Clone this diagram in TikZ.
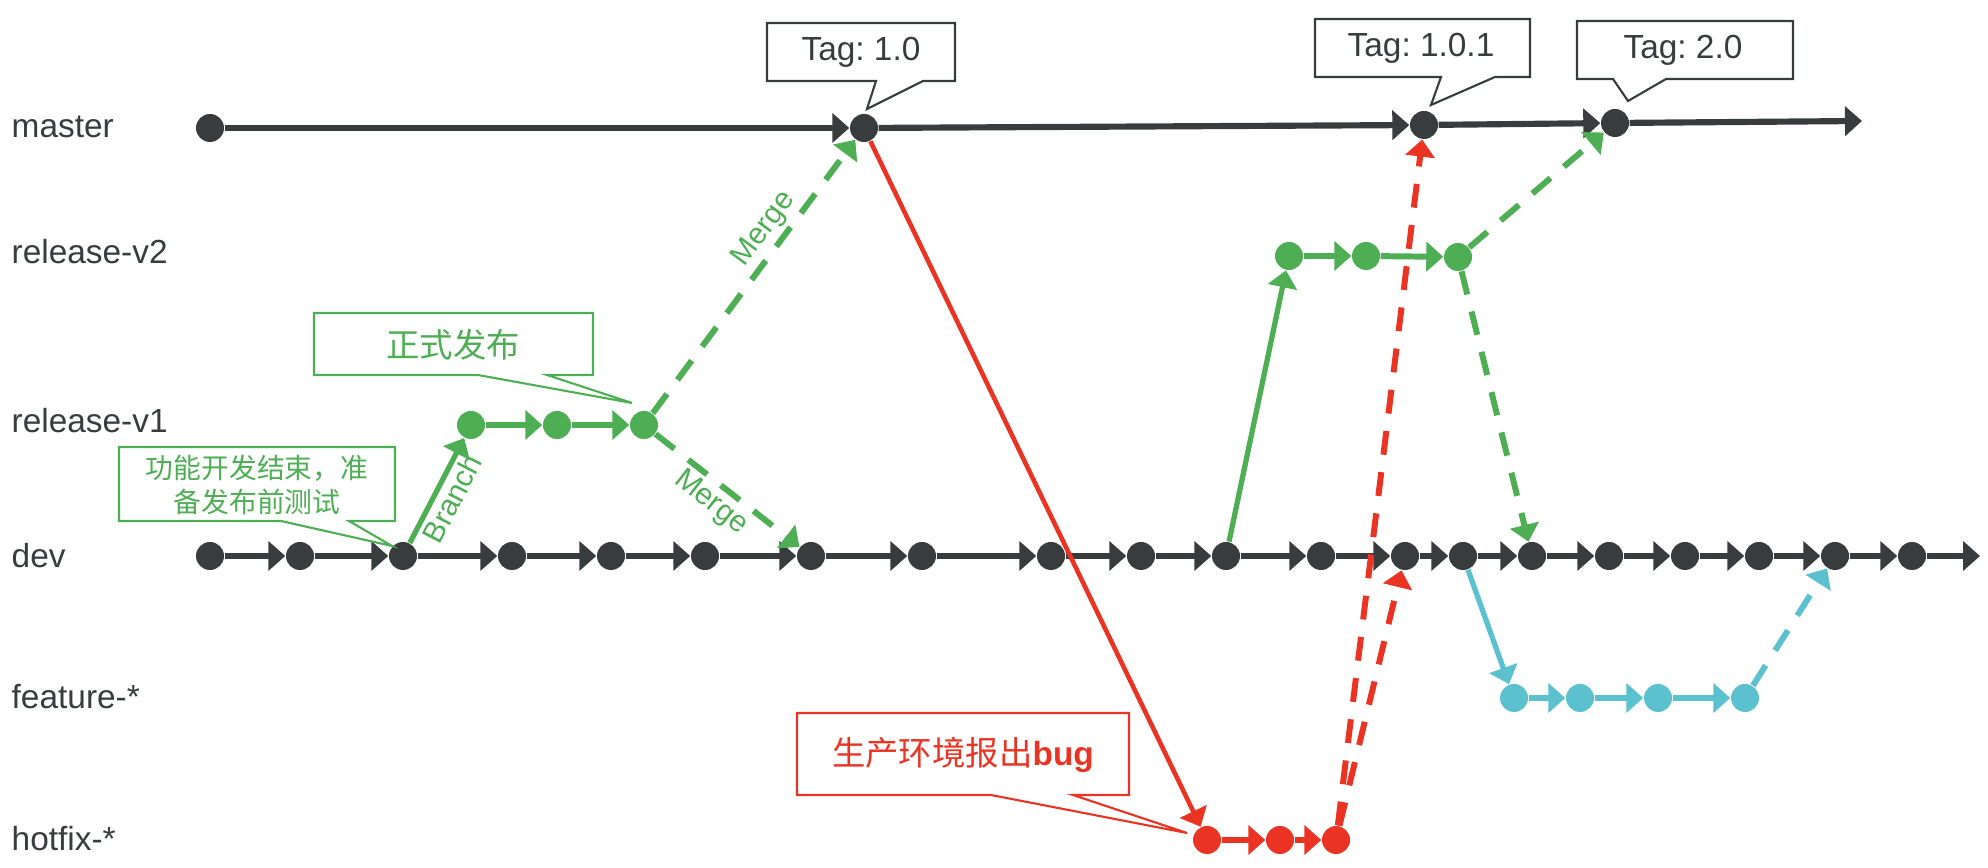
\documentclass[tikz,border=0pt]{standalone}
\usepackage{fontspec}
\setmainfont{Liberation Sans}
\newfontfamily\cjk{Noto Sans CJK SC}
\usetikzlibrary{arrows.meta}
\definecolor{gitgray}{RGB}{56,60,61}
\definecolor{gitgreen}{RGB}{77,174,84}
\definecolor{gitred}{RGB}{235,51,36}
\definecolor{gitcyan}{RGB}{92,193,207}
\frenchspacing
\begin{document}
\begin{tikzpicture}[x=0.01cm, y=-0.01cm,
    every node/.style={font=\fontsize{9.5}{11}\selectfont, text=gitgray},
    commit/.style={circle, fill, inner sep=0pt, minimum size=0.28cm},
    lane/.style={anchor=west, inner sep=0pt},
    link/.style={line width=1.5pt, -{Triangle[width=0.29cm, length=0.17cm]}},
    merge/.style={link, line width=1.7pt, dash pattern=on 6.8pt off 5pt},
    edgelabel/.style={sloped, inner sep=1pt, font=\fontsize{8.5}{10}\selectfont},
    tagbox/.style={line width=0.6pt}]
  \useasboundingbox (0,0) rectangle (1988,868);
  % lanes
  \node[lane] (lmaster) at (11,127) {master};
  \node[lane] (lrelv2) at (11,252) {release-v2};
  \node[lane] (lrelv1) at (11,421) {release-v1};
  \node[lane] (ldev) at (11,556) {dev};
  \node[lane] (lfeat) at (11,697) {feature-*};
  \node[lane] (lhot) at (11,839) {hotfix-*};
  % master
  \node (m1) at (210,128) [commit, fill=gitgray] {};
  \node (m2) at (864,128) [commit, fill=gitgray] {};
  \node (m3) at (1424,125) [commit, fill=gitgray] {};
  \node (m4) at (1615,123) [commit, fill=gitgray] {};
  \coordinate (mend) at (1862,121);
  % release-v2
  \node (rb1) at (1289,256) [commit, fill=gitgreen] {};
  \node (rb2) at (1366,256) [commit, fill=gitgreen] {};
  \node (rb3) at (1458,257) [commit, fill=gitgreen] {};
  % release-v1
  \node (ra1) at (471,425) [commit, fill=gitgreen] {};
  \node (ra2) at (557,425) [commit, fill=gitgreen] {};
  \node (ra3) at (644,425) [commit, fill=gitgreen] {};
  % dev
  \node (d1) at (210,556) [commit, fill=gitgray] {};
  \node (d2) at (300,556) [commit, fill=gitgray] {};
  \node (d3) at (403,556) [commit, fill=gitgray] {};
  \node (d4) at (512,556) [commit, fill=gitgray] {};
  \node (d5) at (611,556) [commit, fill=gitgray] {};
  \node (d6) at (705,556) [commit, fill=gitgray] {};
  \node (d7) at (811,556) [commit, fill=gitgray] {};
  \node (d8) at (922,556) [commit, fill=gitgray] {};
  \node (d9) at (1051,556) [commit, fill=gitgray] {};
  \node (d10) at (1141,556) [commit, fill=gitgray] {};
  \node (d11) at (1226,556) [commit, fill=gitgray] {};
  \node (d12) at (1321,556) [commit, fill=gitgray] {};
  \node (d13) at (1405,556) [commit, fill=gitgray] {};
  \node (d14) at (1463,556) [commit, fill=gitgray] {};
  \node (d15) at (1532,556) [commit, fill=gitgray] {};
  \node (d16) at (1609,556) [commit, fill=gitgray] {};
  \node (d17) at (1685,556) [commit, fill=gitgray] {};
  \node (d18) at (1759,556) [commit, fill=gitgray] {};
  \node (d19) at (1835,556) [commit, fill=gitgray] {};
  \node (d20) at (1912,556) [commit, fill=gitgray] {};
  \coordinate (dend) at (1980,556);
  % feature-*
  \node (f1) at (1514,698) [commit, fill=gitcyan] {};
  \node (f2) at (1580,698) [commit, fill=gitcyan] {};
  \node (f3) at (1658,698) [commit, fill=gitcyan] {};
  \node (f4) at (1745,698) [commit, fill=gitcyan] {};
  % hotfix-*
  \node (h1) at (1207,840) [commit, fill=gitred] {};
  \node (h2) at (1280,840) [commit, fill=gitred] {};
  \node (h3) at (1336,840) [commit, fill=gitred] {};
  % commits along each lane
  \foreach \source/\dest in {m1/m2, m2/m3, m3/m4, m4/mend}
    \path (\source) edge[link, gitgray, line width=1.75pt] (\dest);
  \foreach \source/\dest in {d1/d2, d2/d3, d3/d4, d4/d5, d5/d6, d6/d7, d7/d8, d8/d9, d9/d10, d10/d11, d11/d12, d12/d13, d13/d14, d14/d15, d15/d16, d16/d17, d17/d18, d18/d19, d19/d20, d20/dend}
    \path (\source) edge[link, gitgray, line width=1.7pt] (\dest);
  \foreach \source/\dest in {ra1/ra2, ra2/ra3, rb1/rb2, rb2/rb3}
    \path (\source) edge[link, gitgreen, line width=1.7pt] (\dest);
  \foreach \source/\dest in {f1/f2, f2/f3, f3/f4}
    \path (\source) edge[link, gitcyan, line width=1.7pt] (\dest);
  \foreach \source/\dest in {h1/h2, h2/h3}
    \path (\source) edge[link, gitred, line width=1.7pt] (\dest);
  % branches and merges
  \path (d3) edge[link, gitgreen, line width=1.5pt] node[edgelabel, below, text=gitgreen] {Branch} (ra1);
  \path (ra3) edge[merge, gitgreen] node[edgelabel, below, pos=0.47, text=gitgreen] {Merge} (d7);
  \path (ra3) edge[merge, gitgreen] node[edgelabel, above, pos=0.63, text=gitgreen] {Merge} (m2);
  \path (m2) edge[link, gitred, line width=1.3pt] (h1);
  \path (d11) edge[link, gitgreen, line width=1.5pt] (rb1);
  \path (rb3) edge[merge, gitgreen] (m4);
  \path (rb3) edge[merge, gitgreen] (d15);
  \path (h3) edge[merge, gitred] (m3);
  \path (h3) edge[merge, gitred] (d13);
  \path (d14) edge[link, gitcyan, line width=1.5pt] (f1);
  \path (f4) edge[merge, gitcyan] (d19);
  % callouts
  \draw[tagbox, gitgray] (767,23) -- (955,23) -- (955,81) -- (923,81) -- (867,109) -- (876,81) -- (767,81) -- cycle;
  \node (tag1) at (861,52) {Tag: 1.0};
  \draw[tagbox, gitgray] (1315,19) -- (1530,19) -- (1530,77) -- (1495,77) -- (1431,105) -- (1441,77) -- (1315,77) -- cycle;
  \node (tag2) at (1421,48) {Tag: 1.0.1};
  \draw[tagbox, gitgray] (1577,21) -- (1793,21) -- (1793,79) -- (1666,79) -- (1628,101) -- (1613,79) -- (1577,79) -- cycle;
  \node (tag3) at (1683,50) {Tag: 2.0};
  \draw[tagbox, gitgreen] (314,313) -- (593,313) -- (593,375) -- (547,375) -- (632,403) -- (478,375) -- (314,375) -- cycle;
  \node (release) at (453,345) [text=gitgreen] {\cjk 正式发布};
  \draw[tagbox, gitgreen] (119,447) -- (395,447) -- (395,521) -- (349,521) -- (392,546) -- (281,521) -- (119,521) -- cycle;
  \node (freeze) at (257,485) [text=gitgreen, align=center, font=\fontsize{7.9}{9.7}\selectfont\cjk] {功能开发结束，准\\备发布前测试};
  \draw[tagbox, gitred] (797,713) -- (1129,713) -- (1129,795) -- (1073,795) -- (1187,833) -- (991,795) -- (797,795) -- cycle;
  \node (bug) at (963,755) [text=gitred] {{\cjk 生产环境报出}\textbf{bug}};
\end{tikzpicture}
\end{document}
